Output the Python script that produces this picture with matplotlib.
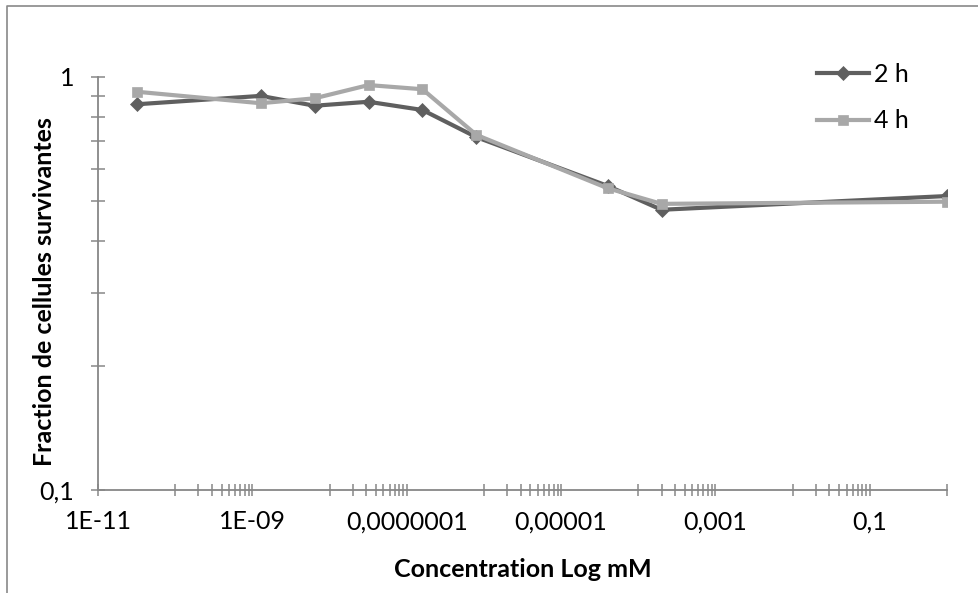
import numpy as np
import matplotlib
matplotlib.use("Agg")
import matplotlib.pyplot as plt
from matplotlib.lines import Line2D
from matplotlib.ticker import FixedLocator, FixedFormatter, NullFormatter

plt.rcParams['font.family'] = ['Lato', 'DejaVu Sans']

# concentrations (mM) et fractions de cellules survivantes
concentration = [3.2e-11, 1.28e-9, 6.4e-9, 3.2e-8, 1.6e-7, 8e-7, 4e-5, 2e-4, 1.0]
survie_2h = [0.859, 0.900, 0.852, 0.871, 0.832, 0.715, 0.545, 0.477, 0.515]
survie_4h = [0.921, 0.864, 0.888, 0.956, 0.934, 0.724, 0.538, 0.493, 0.499]

x_major = [1e-11, 1e-9, 1e-7, 1e-5, 1e-3, 1e-1]
x_labels = ["1E-11", "1E-09", "0,0000001", "0,00001", "0,001", "0,1"]
y_major = [0.1, 1]
y_labels = ["0,1", "1"]

gris_axe = '#878787'
W, H = 979, 593
fs = 18

fig = plt.figure(figsize=(W / 100, H / 100), dpi=100)
ax = fig.add_axes([98 / W, 1 - 490 / H, (947 - 98) / W, (490 - 77) / H])

ax.plot(concentration, survie_2h, color='#5f5f5f', lw=3, marker='D', ms=7,
        mec='#5f5f5f', mew=0.5, label='2 h', zorder=3)
ax.plot(concentration, survie_4h, color='#a8a8a8', lw=3, marker='s', ms=7,
        mec='#a8a8a8', mew=0.5, label='4 h', zorder=4)

ax.set_xscale('log')
ax.set_yscale('log')
ax.set_xlim(1e-11, 1)
ax.set_ylim(0.1, 1)

# graduations facon Excel : mineures seulement dans la 2e decade de chaque intervalle
x_minor = [m * 10 * k for m in x_major for k in range(1, 10) if m * 10 * k <= 1.0001]
ax.xaxis.set_major_locator(FixedLocator(x_major))
ax.xaxis.set_major_formatter(FixedFormatter(x_labels))
ax.xaxis.set_minor_locator(FixedLocator(x_minor))
ax.xaxis.set_minor_formatter(NullFormatter())

ax.yaxis.set_major_locator(FixedLocator(y_major))
ax.yaxis.set_major_formatter(FixedFormatter(y_labels))
ax.yaxis.set_minor_locator(FixedLocator([k / 10 for k in range(2, 10)]))
ax.yaxis.set_minor_formatter(NullFormatter())

for s in ['top', 'right']:
    ax.spines[s].set_visible(False)
for s in ['left', 'bottom']:
    ax.spines[s].set_color(gris_axe)
    ax.spines[s].set_linewidth(1.3)

ax.tick_params(axis='x', which='both', direction='inout', length=9, width=1.1,
               color=gris_axe, pad=10, labelsize=fs)
ax.tick_params(axis='y', which='both', direction='inout', length=10, width=1.1,
               color=gris_axe, pad=12, labelsize=fs)

ax.set_xlabel('Concentration Log mM', fontsize=fs, fontweight='bold')
ax.xaxis.set_label_coords(0.5, -0.165)
ax.set_ylabel('Fraction de cellules survivantes', fontsize=fs, fontweight='bold')
ax.yaxis.set_label_coords(-0.05, 0.48)

ax.legend(loc='upper left', bbox_to_anchor=(804 / W, 1 - 50 / H),
          bbox_transform=fig.transFigure, frameon=False, borderpad=0,
          handlelength=2.1, handletextpad=0.2, labelspacing=0.95, fontsize=fs)

# cadre du graphique
fig.add_artist(Line2D([7 / W, 7 / W, 1], [0, 1 - 6 / H, 1 - 6 / H],
                      transform=fig.transFigure, color='#898989', lw=1.2))

plt.savefig('out.png', dpi=100)
